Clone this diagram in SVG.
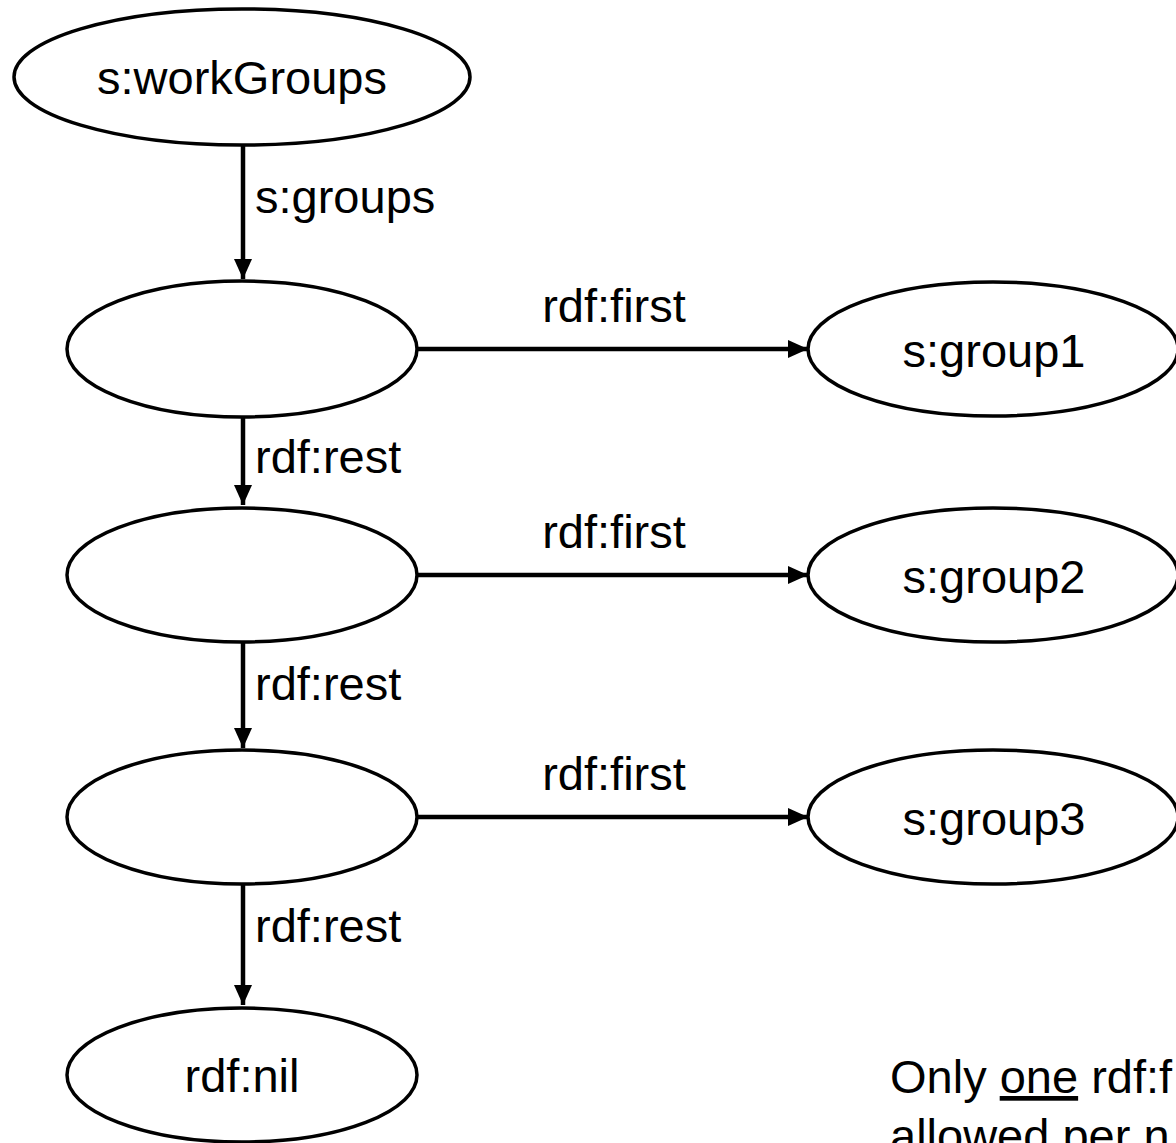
<svg xmlns="http://www.w3.org/2000/svg" width="1176" height="1143" viewBox="0 0 1176 1143">
  <style>
    .node { fill: #ffffff; stroke: #000000; stroke-width: 3.5; }
    .lbl { font-family: "Liberation Sans", Arial, sans-serif; font-size: 47px; fill: #000000; }
    .mid { text-anchor: middle; }
    .edge { stroke: #000000; stroke-width: 4.5; fill: none; }
  </style>
  <defs>
    <marker id="arrow" viewBox="0 0 20 18" refX="20" refY="9" markerWidth="20" markerHeight="18" markerUnits="userSpaceOnUse" orient="auto">
      <path d="M0,0 L20,9 L0,18 Z" fill="#000000"/>
    </marker>
  </defs>
  <rect width="1176" height="1143" fill="#ffffff"/>

  <!-- connectors -->
  <g id="connectors">
    <line class="edge" x1="243" y1="145" x2="243" y2="279" marker-end="url(#arrow)"/>
    <text class="lbl" x="255" y="213">s:groups</text>

    <line class="edge" x1="417" y1="349" x2="808" y2="349" marker-end="url(#arrow)"/>
    <text class="lbl mid" x="614" y="322">rdf:first</text>
    <line class="edge" x1="243" y1="417" x2="243" y2="505" marker-end="url(#arrow)"/>
    <text class="lbl" x="255" y="473">rdf:rest</text>

    <line class="edge" x1="417" y1="575" x2="808" y2="575" marker-end="url(#arrow)"/>
    <text class="lbl mid" x="614" y="548">rdf:first</text>
    <line class="edge" x1="243" y1="642" x2="243" y2="748" marker-end="url(#arrow)"/>
    <text class="lbl" x="255" y="700">rdf:rest</text>

    <line class="edge" x1="417" y1="817" x2="808" y2="817" marker-end="url(#arrow)"/>
    <text class="lbl mid" x="614" y="790">rdf:first</text>
    <line class="edge" x1="243" y1="884" x2="243" y2="1005" marker-end="url(#arrow)"/>
    <text class="lbl" x="255" y="942">rdf:rest</text>
  </g>

  <!-- nodes -->
  <g id="workGroups">
    <ellipse class="node" cx="242" cy="77" rx="228" ry="68"/>
    <text class="lbl mid" x="242" y="94">s:workGroups</text>
  </g>
  <g id="list1">
    <ellipse class="node" cx="242" cy="349" rx="175" ry="68"/>
  </g>
  <g id="list2">
    <ellipse class="node" cx="242" cy="575" rx="175" ry="67"/>
  </g>
  <g id="list3">
    <ellipse class="node" cx="242" cy="817" rx="175" ry="67"/>
  </g>
  <g id="nil">
    <ellipse class="node" cx="242" cy="1075" rx="175" ry="67"/>
    <text class="lbl mid" x="242" y="1092">rdf:nil</text>
  </g>
  <g id="group1">
    <ellipse class="node" cx="993" cy="349" rx="185" ry="67"/>
    <text class="lbl mid" x="994" y="367">s:group1</text>
  </g>
  <g id="group2">
    <ellipse class="node" cx="993" cy="575" rx="185" ry="67"/>
    <text class="lbl mid" x="994" y="593">s:group2</text>
  </g>
  <g id="group3">
    <ellipse class="node" cx="993" cy="817" rx="185" ry="67"/>
    <text class="lbl mid" x="994" y="835">s:group3</text>
  </g>

  <!-- note, running past the right edge -->
  <g id="note">
    <text class="lbl" x="890" y="1093">Only <tspan text-decoration="underline">one</tspan> rdf:f</text>
    <text class="lbl" x="890" y="1152">allowed per n</text>
  </g>
</svg>
